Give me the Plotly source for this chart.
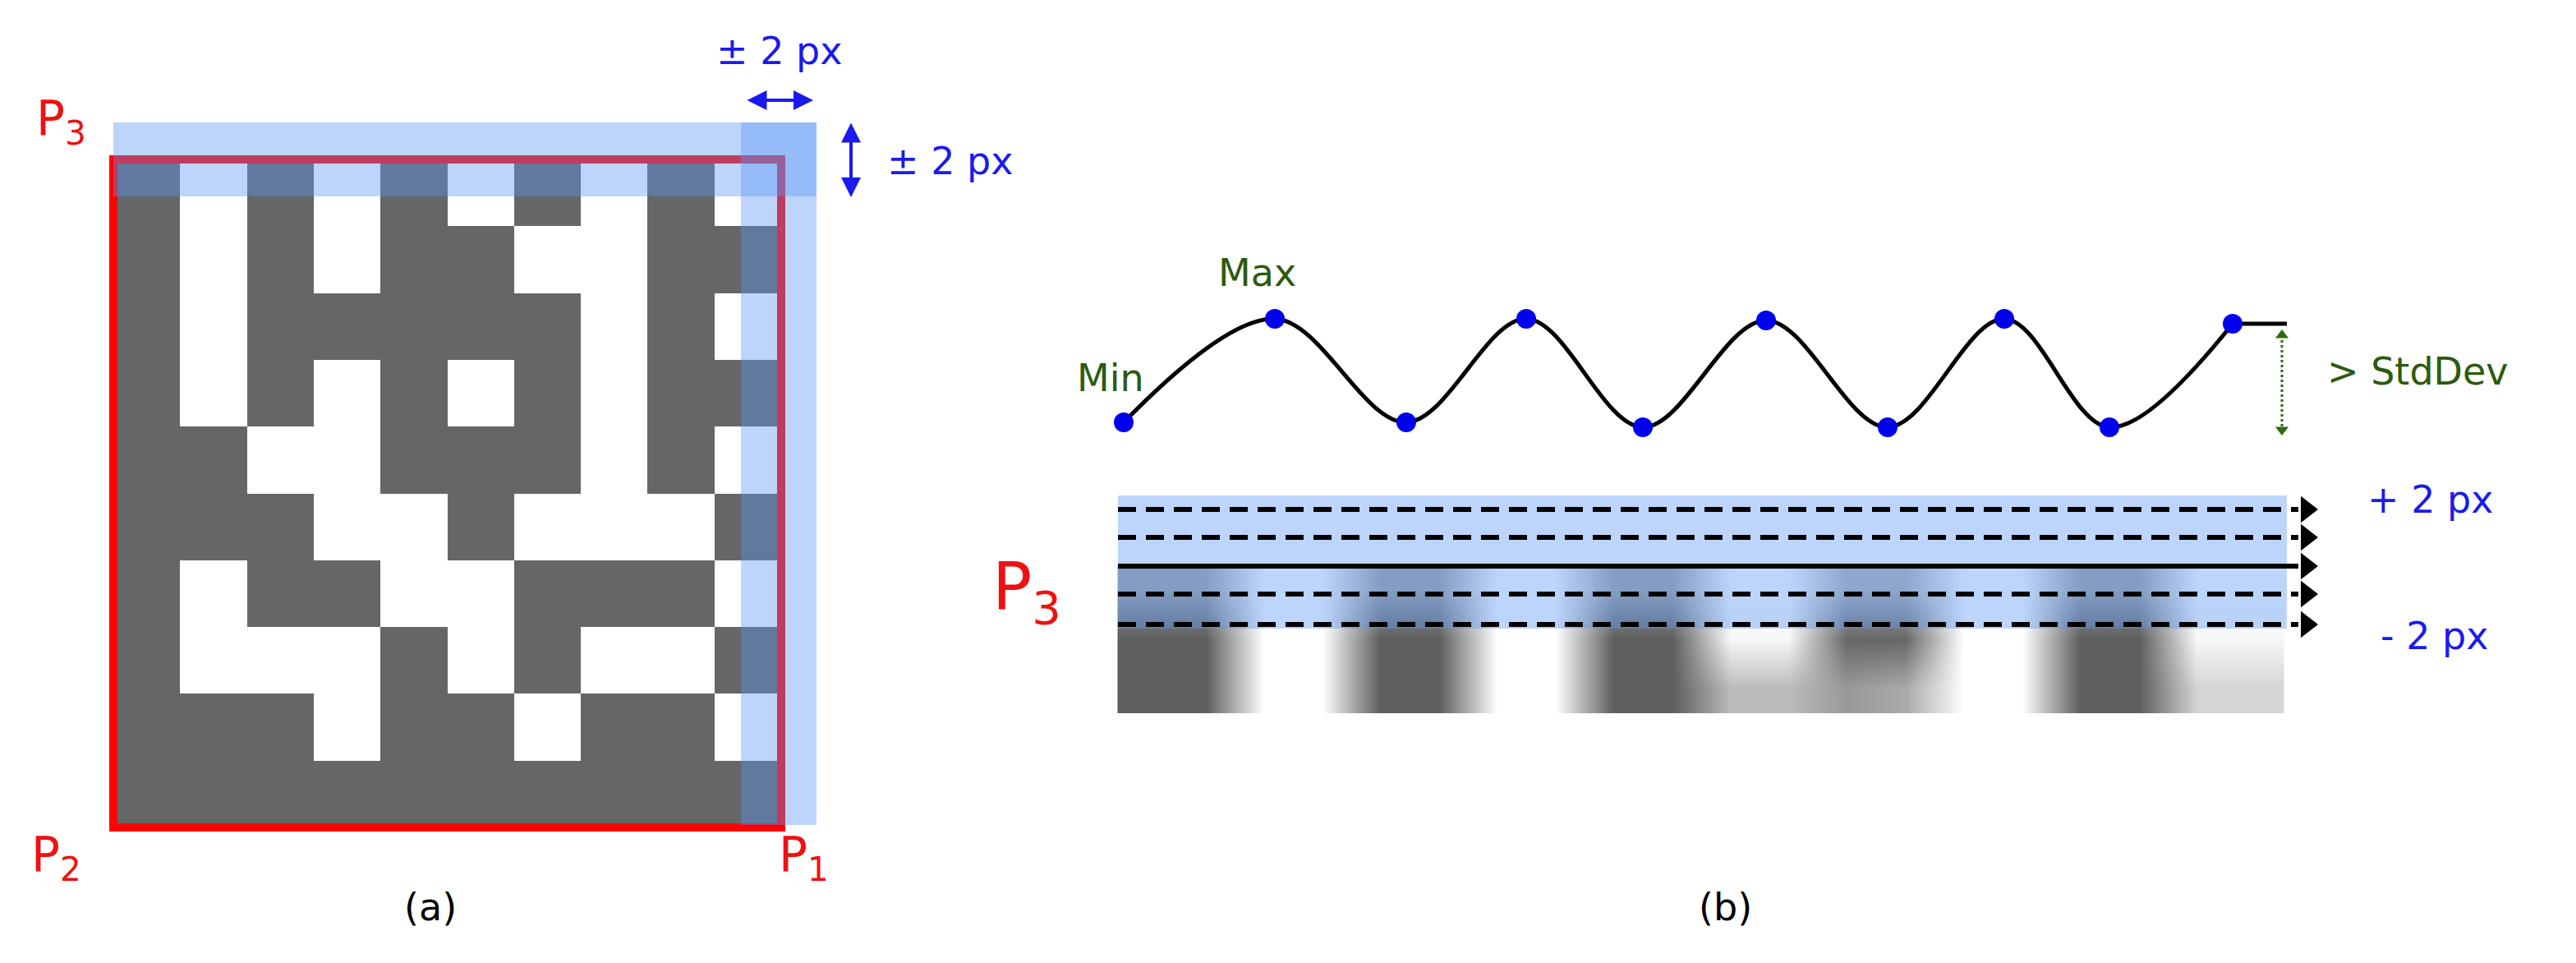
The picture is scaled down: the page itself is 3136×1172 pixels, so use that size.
import plotly.graph_objects as go

# --- data ---
# 10x10 data-matrix symbol, 1 = dark module (top row first)
matrix_rows = [
    [1, 0, 1, 0, 1, 0, 1, 0, 1, 0],
    [1, 0, 1, 0, 1, 1, 0, 0, 1, 1],
    [1, 0, 1, 1, 1, 1, 1, 0, 1, 0],
    [1, 0, 1, 0, 1, 0, 1, 0, 1, 1],
    [1, 1, 0, 0, 1, 1, 1, 0, 1, 0],
    [1, 1, 1, 0, 0, 1, 0, 0, 0, 1],
    [1, 0, 1, 1, 0, 0, 1, 1, 1, 0],
    [1, 0, 0, 0, 1, 0, 1, 0, 0, 1],
    [1, 1, 1, 0, 1, 1, 0, 1, 1, 0],
    [1, 1, 1, 1, 1, 1, 1, 1, 1, 1],
]

# extrema along the scan profile (pixel coordinates)
extrema_x = [1360, 1544, 1704, 1850, 1992, 2142, 2290, 2432, 2560, 2710]
extrema_y = [506, 380, 506, 380, 512, 382, 512, 380, 512, 386]

# blurred scan strip (three bands x 20 columns, 1 = dark)
strip_x = [1388, 1459, 1530, 1601, 1672, 1743, 1814, 1885, 1956, 2027,
           2098, 2169, 2240, 2311, 2382, 2453, 2524, 2595, 2666, 2737]
strip_y = [710, 770, 830]
strip_z = [
    [0.55, 0.55, 0, 0, 0.55, 0.55, 0, 0, 0.55, 0.55,
     0, 0, 0.45, 0.45, 0, 0, 0.55, 0.55, 0, 0],
    [0.95, 0.95, 0, 0, 0.95, 0.95, 0, 0, 0.95, 0.95,
     0.05, 0.05, 0.9, 0.9, 0, 0, 0.95, 0.95, 0.05, 0.05],
    [0.95, 0.95, 0, 0, 0.95, 0.95, 0, 0, 0.95, 0.95,
     0.4, 0.4, 0.6, 0.5, 0, 0, 0.95, 0.95, 0.25, 0.25],
]

# scan line offsets (pixel rows)
scan_y = [612, 646, 681, 715, 752]
scan_dash = ['22px,12px', '22px,12px', 'solid', '22px,12px', '22px,12px']

band_fill = 'rgba(90,150,245,0.4)'

fig = go.Figure()

# matrix
cell = 81.3
mx0, my0 = 130, 186
fig.add_trace(go.Heatmap(
    z=matrix_rows,
    x=[mx0 + cell * (i + 0.5) for i in range(10)],
    y=[my0 + cell * (j + 0.5) for j in range(10)],
    colorscale=[[0, 'white'], [1, '#666666']],
    showscale=False, zmin=0, zmax=1, hoverinfo='skip'
))

# blurred strip
fig.add_trace(go.Heatmap(
    z=strip_z, x=strip_x, y=strip_y, zsmooth='best',
    colorscale=[[0, 'white'], [1, '#555555']],
    showscale=False, zmin=0, zmax=1, hoverinfo='skip'
))

# tolerance band behind the scan lines
fig.add_trace(go.Scatter(
    x=[1353, 2776, 2776, 1353, 1353], y=[595, 595, 757, 757, 595],
    mode='lines', fill='toself', fillcolor=band_fill, line_width=0,
    hoverinfo='skip'
))

# wave
fig.add_trace(go.Scatter(
    x=extrema_x, y=extrema_y, mode='lines',
    line=dict(color='black', width=5, shape='spline', smoothing=1.0),
    hoverinfo='skip'
))
fig.add_trace(go.Scatter(
    x=[extrema_x[-1], 2776], y=[extrema_y[-1], extrema_y[-1]], mode='lines',
    line=dict(color='black', width=5), hoverinfo='skip'
))
fig.add_trace(go.Scatter(
    x=extrema_x, y=extrema_y, mode='markers',
    marker=dict(color='#0000ee', size=24), hoverinfo='skip'
))

shapes = [
    dict(type='rect', x0=mx0, y0=my0, x1=mx0 + 10 * cell, y1=my0 + 10 * cell,
         line=dict(color='red', width=10), layer='above'),
    dict(type='rect', x0=130, y0=141, x1=986, y1=231, line_width=0,
         fillcolor='rgb(90,150,245)', opacity=0.4, layer='above'),
    dict(type='rect', x0=894, y0=141, x1=986, y1=996, line_width=0,
         fillcolor='rgb(90,150,245)', opacity=0.4, layer='above'),
    dict(type='line', x0=2770, y0=400, x1=2770, y1=515,
         line=dict(color='#2d6a10', width=3, dash='dot'), layer='above'),
]
fig.update_layout(shapes=shapes)

# scan lines with arrowheads
for yy, d in zip(scan_y, scan_dash):
    fig.add_trace(go.Scatter(
        x=[1353, 2790], y=[yy, yy], mode='lines',
        line=dict(color='black', width=6, dash=d), hoverinfo='skip'
    ))
    fig.add_trace(go.Scatter(
        x=[2800], y=[yy], mode='markers',
        marker=dict(symbol='triangle-right', color='black', size=28), hoverinfo='skip'
    ))

# stddev arrowheads
fig.add_trace(go.Scatter(
    x=[2770, 2770], y=[400, 515], mode='markers',
    marker=dict(symbol=['triangle-up', 'triangle-down'], color='#2d6a10', size=14),
    hoverinfo='skip'
))

font = 'DejaVu Sans'
red = '#ee1111'
blue = '#1a1aee'
green = '#2d5a0e'
texts = [
    (66, 140, 'P<sub>3</sub>', red, 58),
    (60, 1036, 'P<sub>2</sub>', red, 58),
    (970, 1036, 'P<sub>1</sub>', red, 58),
    (516, 1096, '(a)', 'black', 46),
    (2092, 1096, '(b)', 'black', 46),
    (940, 54, '± 2 px', blue, 46),
    (1148, 188, '± 2 px', blue, 46),
    (1344, 452, 'Min', green, 46),
    (1522, 324, 'Max', green, 46),
    (2935, 444, '> StdDev', green, 46),
    (2950, 600, '+ 2 px', blue, 46),
    (2956, 766, '- 2 px', blue, 46),
    (1242, 712, 'P<sub>3</sub>', red, 80),
]
for x, y, t, c, s in texts:
    fig.add_annotation(x=x, y=y, text=t, showarrow=False,
                       font=dict(family=font, color=c, size=s))

# double-headed blue arrows
for (x0, y0, x1, y1) in [(900, 114, 982, 114), (1028, 140, 1028, 232)]:
    fig.add_annotation(x=x1, y=y1, ax=x0, ay=y0, xref='x', yref='y',
                       axref='x', ayref='y', text='', showarrow=True,
                       arrowhead=2, startarrowhead=2, arrowside='end+start',
                       arrowsize=1.2, arrowwidth=4, arrowcolor=blue)

fig.update_xaxes(range=[0, 3136], visible=False)
fig.update_yaxes(range=[1172, 0], visible=False)
fig.update_layout(
    width=3136, height=1172, margin=dict(l=0, r=0, t=0, b=0),
    plot_bgcolor='white', paper_bgcolor='white', showlegend=False
)
fig.write_html("out.html")
